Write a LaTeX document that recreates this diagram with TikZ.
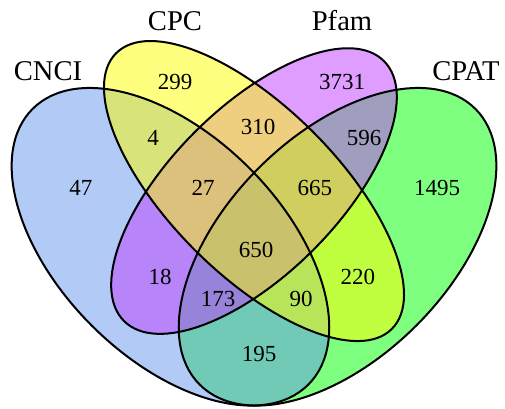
\documentclass[tikz,border=0pt]{standalone}
\usepackage{fontspec}
\setmainfont{Liberation Serif}
\usepackage{xcolor, tikz}
\definecolor{cnciblue}{RGB}{100,149,237}
\definecolor{cpcyellow}{RGB}{255,255,0}
\definecolor{pfamorchid}{RGB}{191,62,255}
\definecolor{cpatgreen}{RGB}{0,255,0}
\tikzstyle{setfill} = [draw=none, fill opacity=0.5]
\tikzstyle{setline} = [draw=black, line width=1pt]
\tikzstyle{setname} = [inner sep=0pt, font=\fontsize{14.3}{16}\selectfont]
\tikzstyle{count} = [inner sep=0pt, font=\fontsize{11.5}{13}\selectfont]

\begin{document}
\begin{tikzpicture}[x=278.5pt, y=278.5pt]
      \useasboundingbox (0.044,0.1805) rectangle (0.9506,0.913);
      % fills, CPAT first and CPC last
      \fill [setfill, fill=cpatgreen, rotate around={45:(0.65,0.47)}] (0.65,0.47) ellipse (0.35 and 0.2);
      \fill [setfill, fill=cnciblue, rotate around={135:(0.35,0.47)}] (0.35,0.47) ellipse (0.35 and 0.2);
      \fill [setfill, fill=pfamorchid, rotate around={45:(0.5,0.57)}] (0.5,0.57) ellipse (0.33 and 0.15);
      \fill [setfill, fill=cpcyellow, rotate around={135:(0.5,0.57)}] (0.5,0.57) ellipse (0.35 and 0.15);
      % outlines
      \draw [setline, rotate around={45:(0.65,0.47)}] (0.65,0.47) ellipse (0.35 and 0.2);
      \draw [setline, rotate around={135:(0.35,0.47)}] (0.35,0.47) ellipse (0.35 and 0.2);
      \draw [setline, rotate around={45:(0.5,0.57)}] (0.5,0.57) ellipse (0.33 and 0.15);
      \draw [setline, rotate around={135:(0.5,0.57)}] (0.5,0.57) ellipse (0.35 and 0.15);
      % set names
      \node (cnci)[setname] at (0.1302,0.7855) {CNCI};
      \node (cpc)[setname] at (0.3582,0.8753) {CPC};
      \node (pfam)[setname] at (0.6580,0.8753) {Pfam};
      \node (cpat)[setname] at (0.8806,0.7855) {CPAT};
      % counts
      \node (cncionly)[count] at (0.1894,0.5755) {47};
      \node (cpconly)[count] at (0.3582,0.7658) {299};
      \node (pfamonly)[count] at (0.6580,0.7658) {3731};
      \node (cpatonly)[count] at (0.8286,0.5755) {1495};
      \node (cncicpc)[count] at (0.3187,0.6652) {4};
      \node (cpcpfam)[count] at (0.5072,0.6850) {310};
      \node (pfamcpat)[count] at (0.6975,0.6652) {596};
      \node (cncicpcpfam)[count] at (0.4085,0.5755) {27};
      \node (cpcpfamcpat)[count] at (0.6095,0.5755) {665};
      \node (all)[count] at (0.5036,0.4642) {650};
      \node (cncipfam)[count] at (0.3313,0.4157) {18};
      \node (cncipfamcpat)[count] at (0.4354,0.3762) {173};
      \node (cncicpccpat)[count] at (0.5844,0.3762) {90};
      \node (cpccpat)[count] at (0.6867,0.4157) {220};
      \node (cncicpat)[count] at (0.5090,0.2774) {195};
    \end{tikzpicture}
\end{document}
